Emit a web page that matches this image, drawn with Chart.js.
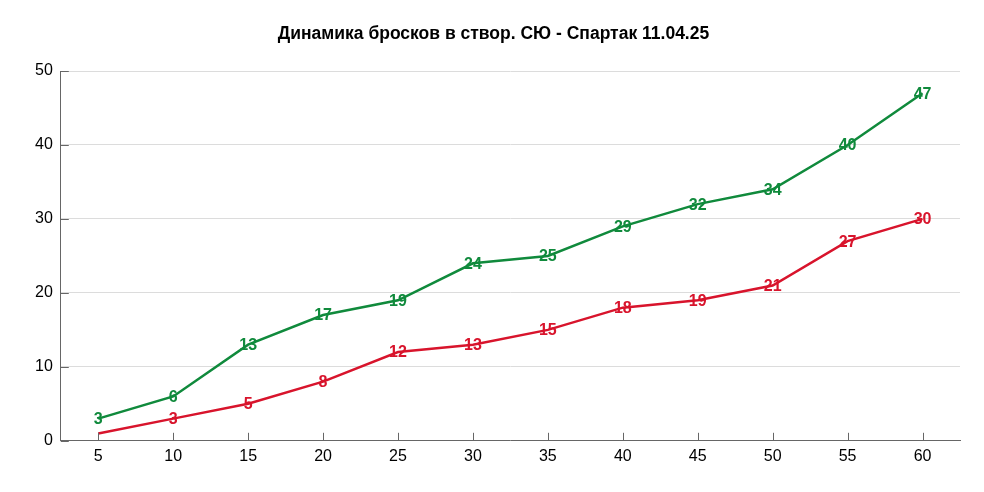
<!DOCTYPE html>
<html>
<head>
<meta charset="utf-8">
<script src="https://cdn.jsdelivr.net/npm/chart.js@4.4.1/dist/chart.umd.min.js"></script>
<style>
  html, body { margin: 0; padding: 0; background: #fff; }
  #wrap { width: 984px; height: 492px; }
</style>
</head>
<body>
<div id="wrap"><canvas id="chart"></canvas></div>
<script>
const minutes = [5, 10, 15, 20, 25, 30, 35, 40, 45, 50, 55, 60];
const cskaShots = [3, 6, 13, 17, 19, 24, 25, 29, 32, 34, 40, 47];
const spartakShots = [1, 3, 5, 8, 12, 13, 15, 18, 19, 21, 27, 30];
const yTicks = [0, 10, 20, 30, 40, 50];

const GREEN = '#108a3c';
const RED = '#d8142c';

// подписи значений прямо поверх точек
const valueLabels = {
    id: 'valueLabels',
    afterDatasetsDraw(chart) {
        const ctx = chart.ctx;
        ctx.save();
        ctx.font = 'bold 16px "Liberation Sans", Arial, sans-serif';
        ctx.textAlign = 'center';
        ctx.textBaseline = 'middle';
        chart.data.datasets.forEach((ds, i) => {
            const meta = chart.getDatasetMeta(i);
            ctx.fillStyle = ds.borderColor;
            meta.data.forEach((pt, j) => {
                if (ds.hideFirstLabel && j === 0) return;
                ctx.fillText(String(ds.data[j]), pt.x, pt.y + 1);
            });
        });
        ctx.restore();
    }
};

// короткие засечки внутрь области графика
const innerTicks = {
    id: 'innerTicks',
    afterDraw(chart) {
        const ctx = chart.ctx;
        const x = chart.scales.x, y = chart.scales.y;
        ctx.save();
        ctx.strokeStyle = '#666';
        ctx.lineWidth = 1;
        ctx.beginPath();
        x.ticks.forEach((t, i) => {
            const px = Math.round(x.getPixelForTick(i)) + 0.5;
            ctx.moveTo(px, y.bottom);
            ctx.lineTo(px, y.bottom - 8);
        });
        y.ticks.forEach((t, i) => {
            const py = Math.round(y.getPixelForTick(i)) + 0.5;
            ctx.moveTo(x.left, py);
            ctx.lineTo(x.left + 8, py);
        });
        ctx.stroke();
        ctx.restore();
    }
};

new Chart(document.getElementById('chart'), {
    type: 'line',
    data: {
        labels: minutes,
        datasets: [
            {
                label: 'СЮ',
                data: cskaShots,
                borderColor: GREEN,
                borderWidth: 2.5,
                pointRadius: 0,
                tension: 0
            },
            {
                label: 'Спартак',
                data: spartakShots,
                borderColor: RED,
                borderWidth: 2.5,
                pointRadius: 0,
                tension: 0,
                hideFirstLabel: true
            }
        ]
    },
    options: {
        responsive: true,
        maintainAspectRatio: false,
        animation: false,
        layout: { padding: { left: 27, right: 24, top: 8, bottom: 20 } },
        plugins: {
            legend: { display: false },
            tooltip: { enabled: false },
            title: {
                display: true,
                text: 'Динамика бросков в створ. СЮ - Спартак 11.04.25',
                color: '#000',
                font: { family: '"Liberation Sans", Arial, sans-serif', size: 17.5, weight: 'bold' },
                padding: { top: 16, bottom: 26 }
            }
        },
        scales: {
            x: {
                offset: true,
                grid: { display: false, drawTicks: false },
                border: { color: '#666', width: 1 },
                ticks: {
                    color: '#000',
                    padding: 6,
                    font: { family: '"Liberation Sans", Arial, sans-serif', size: 16 }
                }
            },
            y: {
                min: 0,
                max: 50,
                afterBuildTicks(scale) {
                    scale.ticks = yTicks.map(v => ({ value: v }));
                },
                grid: { color: '#dcdcdc', drawTicks: false },
                border: { color: '#666', width: 1 },
                ticks: {
                    color: '#000',
                    padding: 8,
                    font: { family: '"Liberation Sans", Arial, sans-serif', size: 16 }
                }
            }
        }
    },
    plugins: [valueLabels, innerTicks]
});
</script>
</body>
</html>
